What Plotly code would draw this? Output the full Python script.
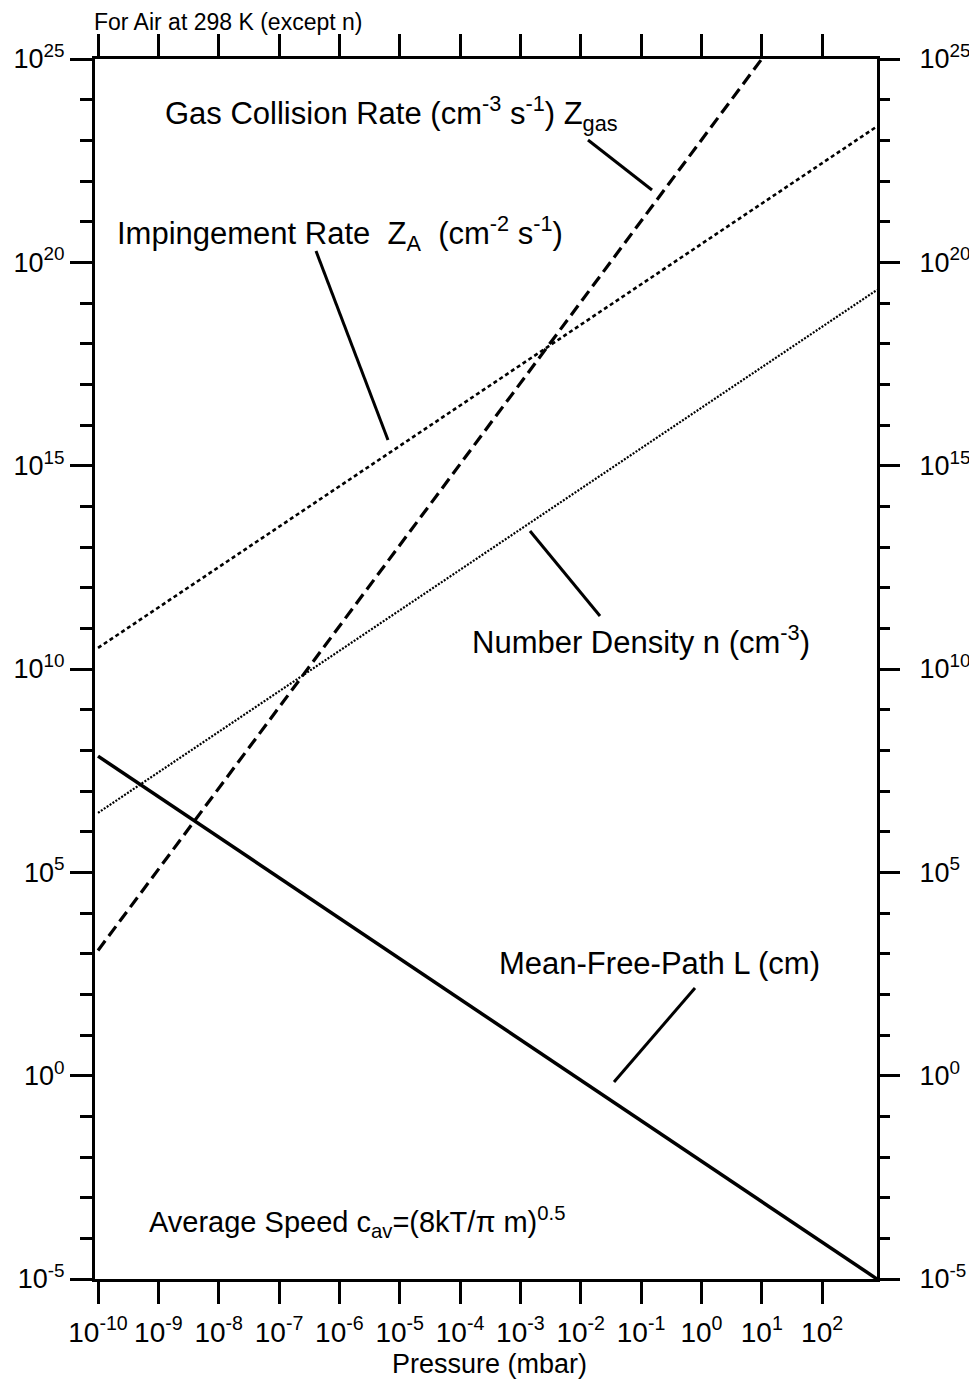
import plotly.graph_objects as go

# ---------------- data ----------------
mfp_p = [1e-10, 813.0]          # pressure, mbar
mfp_L = [7.2e7, 1e-5]           # mean free path, cm

nd_p = [1e-10, 813.0]
nd_n = [2.9e6, 2.1e19]          # number density, cm^-3

imp_p = [1e-10, 813.0]
imp_Z = [3.3e10, 2.2e23]        # impingement rate, cm^-2 s^-1

gas_p = [1e-10, 10.0]
gas_Z = [1.2e3, 1e25]           # gas collision rate, cm^-3 s^-1

x_exps = list(range(-10, 3))
x_tickvals = [10.0 ** e for e in x_exps]
x_ticktext = ["10<sup>%d</sup>" % e for e in x_exps]

y_major_exps = [-5, 0, 5, 10, 15, 20, 25]
y_tickvals = [10.0 ** e for e in y_major_exps]
y_ticktext = ["10<sup>%d</sup>" % e for e in y_major_exps]
y_minor_vals = [10.0 ** e for e in range(-5, 26)]

# ---------------- layout helpers ----------------
OFF = 8  # default page body margin
W, H = 977 - OFF, 1381 - OFF
# plot-area edges in window pixels
WL, WR, WT, WB = 95, 877, 59, 1279
L, R, T, B = WL - OFF, WR - OFF, WT - OFF, WB - OFF
FONT = "Liberation Sans, Arial, Helvetica, sans-serif"


def px(x):
    return (x - WL) / (WR - WL)


def py(y):
    return 1 - (y - WT) / (WB - WT)


fig = go.Figure()
fig.add_trace(go.Scatter(x=gas_p, y=gas_Z, mode="lines",
                         line=dict(color="black", width=3.2, dash="12px,6px"),
                         showlegend=False, hoverinfo="skip"))
fig.add_trace(go.Scatter(x=imp_p, y=imp_Z, mode="lines",
                         line=dict(color="black", width=2.6, dash="4px,3px"),
                         showlegend=False, hoverinfo="skip"))
fig.add_trace(go.Scatter(x=nd_p, y=nd_n, mode="lines",
                         line=dict(color="black", width=2.2, dash="2px,1.5px"),
                         showlegend=False, hoverinfo="skip"))
fig.add_trace(go.Scatter(x=mfp_p, y=mfp_L, mode="lines",
                         line=dict(color="black", width=3.5),
                         showlegend=False, hoverinfo="skip"))

xr = [-10.05, 2.91]
yr = [-5, 25]
xtickfont = dict(family=FONT, size=28, color="black")
ytickfont = dict(family=FONT, size=27, color="black")

fig.update_layout(
    width=W, height=H,
    margin=dict(l=L, r=W - R, t=T, b=H - B, pad=0, autoexpand=False),
    paper_bgcolor="white", plot_bgcolor="white",
    xaxis=dict(type="log", range=xr, showgrid=False, zeroline=False, automargin=False,
               showline=True, linecolor="black", linewidth=3,
               mirror="allticks", ticks="outside", ticklen=22, tickwidth=3,
               tickcolor="black", tickmode="array", tickvals=x_tickvals,
               ticktext=x_ticktext, tickfont=xtickfont, ticklabelstandoff=4),
    yaxis=dict(type="log", range=yr, showgrid=False, zeroline=False, automargin=False,
               showline=True, linecolor="black", linewidth=3, mirror=True,
               ticks="outside", ticklen=22, tickwidth=3, tickcolor="black",
               tickmode="array", tickvals=y_tickvals, ticktext=y_ticktext,
               tickfont=ytickfont, ticklabelstandoff=0,
               minor=dict(tickmode="array", tickvals=y_minor_vals, ticks="outside",
                          ticklen=12, tickwidth=3, tickcolor="black")),
    yaxis2=dict(type="log", range=yr, overlaying="y", side="right", automargin=False,
                showgrid=False, zeroline=False, showline=False,
                ticks="outside", ticklen=22, tickwidth=3, tickcolor="black",
                tickmode="array", tickvals=y_tickvals, ticktext=y_ticktext,
                tickfont=ytickfont, ticklabelstandoff=14,
                minor=dict(tickmode="array", tickvals=y_minor_vals, ticks="outside",
                           ticklen=12, tickwidth=3, tickcolor="black")),
)
# invisible trace to anchor yaxis2
fig.add_trace(go.Scatter(x=[None], y=[None], yaxis="y2", showlegend=False,
                         hoverinfo="skip"))

LBL = dict(family=FONT, size=31, color="black")
annotations = [
    dict(text="Gas Collision Rate (cm<sup>-3</sup> s<sup>-1</sup>) Z<sub>gas</sub>",
         x=px(163), y=py(113)),
    dict(text="Impingement Rate\u00a0\u00a0Z<sub>A</sub>\u00a0\u00a0(cm<sup>-2</sup> s<sup>-1</sup>)",
         x=px(115), y=py(233)),
    dict(text="Number Density n (cm<sup>-3</sup>)", x=px(470), y=py(640)),
    dict(text="Mean-Free-Path L (cm)", x=px(497), y=py(963)),
]
for a in annotations:
    fig.add_annotation(xref="paper", yref="paper", xanchor="left", yanchor="middle",
                       showarrow=False, font=LBL, **a)

fig.add_annotation(text="Average Speed c<sub>av</sub>=(8kT/\u03c0 m)<sup>0.5</sup>",
                   xref="paper", yref="paper", x=px(147), y=py(1222),
                   xanchor="left", yanchor="middle", showarrow=False,
                   font=dict(family=FONT, size=29, color="black"))
fig.add_annotation(text="For Air at 298 K (except n)", xref="paper", yref="paper",
                   x=px(92), y=py(22), xanchor="left", yanchor="middle",
                   showarrow=False, font=dict(family=FONT, size=23, color="black"))
fig.add_annotation(text="Pressure (mbar)", xref="paper", yref="paper",
                   x=px(489), y=py(1380), xanchor="center", yanchor="bottom",
                   borderpad=0, showarrow=False,
                   font=dict(family=FONT, size=27, color="black"))

leaders = [
    ((588, 140), (652, 190)),
    ((316, 251), (388, 440)),
    ((530, 531), (600, 616)),
    ((695, 988), (614, 1082)),
]
for (x0, y0), (x1, y1) in leaders:
    fig.add_shape(type="line", xref="paper", yref="paper",
                  x0=px(x0), y0=py(y0), x1=px(x1), y1=py(y1),
                  line=dict(color="black", width=3))

fig.write_html("out.html")
